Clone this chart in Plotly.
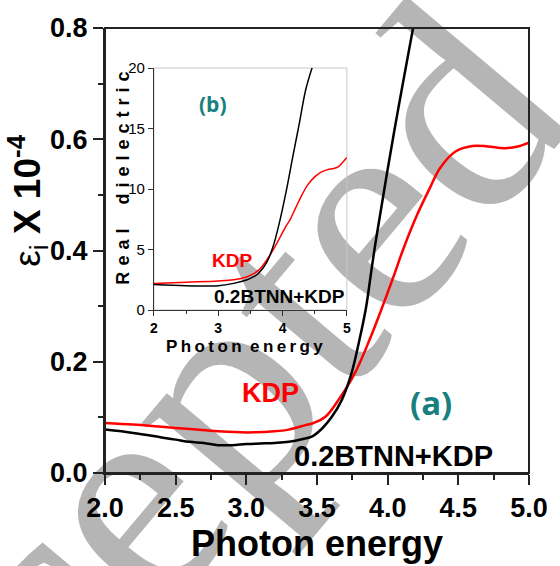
import plotly.graph_objects as go

# ---- main panel (a): imaginary dielectric, eps_i x 10^-4 ----
kdp_x = [2.0, 2.2, 2.4, 2.6, 2.8, 3.0, 3.2, 3.3, 3.42, 3.467, 3.559, 3.651, 3.767, 3.871, 3.963,
         4.044, 4.114, 4.21, 4.30, 4.37, 4.48, 4.60, 4.71, 4.83, 4.92, 5.0]
kdp_y = [0.090, 0.087, 0.083, 0.079, 0.075, 0.073, 0.075, 0.078, 0.086, 0.089, 0.101, 0.131,
         0.179, 0.239, 0.299, 0.355, 0.405, 0.465, 0.513, 0.548, 0.578, 0.588, 0.587, 0.584,
         0.587, 0.594]

btnn_x = [2.0, 2.2, 2.4, 2.5, 2.6, 2.7, 2.8, 2.9, 3.0, 3.1, 3.2, 3.3, 3.4, 3.467, 3.536,
          3.605, 3.675, 3.744, 3.80, 3.848, 3.882, 3.917, 4.04, 4.18]
btnn_y = [0.078, 0.072, 0.064, 0.060, 0.056, 0.054, 0.050, 0.050, 0.052, 0.053, 0.054, 0.056,
          0.061, 0.066, 0.080, 0.101, 0.131, 0.179, 0.239, 0.299, 0.359, 0.419, 0.605, 0.800]

# ---- inset panel (b): real dielectric ----
kdp_in_x = [2.0, 2.5, 3.0, 3.24, 3.45, 3.55, 3.65, 3.80, 3.95, 4.05, 4.11, 4.20, 4.30, 4.40,
            4.50, 4.60, 4.70, 4.80, 4.87, 4.95, 5.0]
kdp_in_y = [2.2, 2.3, 2.4, 2.5, 2.75, 3.0, 3.4, 4.5, 5.9, 6.9, 7.4, 8.4, 9.5, 10.4,
            11.0, 11.4, 11.6, 11.7, 11.85, 12.3, 12.6]

btnn_in_x = [2.0, 2.5, 3.0, 3.24, 3.45, 3.55, 3.62, 3.75, 3.85, 3.95, 4.06, 4.16, 4.26,
             4.36, 4.47]
btnn_in_y = [2.1, 2.0, 2.0, 2.2, 2.5, 2.75, 3.0, 3.9, 5.2, 7.2, 9.9, 12.7, 15.4, 18.2, 20.2]

main_xticks = [2.0, 2.5, 3.0, 3.5, 4.0, 4.5, 5.0]
main_yticks = [0.0, 0.2, 0.4, 0.6, 0.8]
inset_xticks = [2, 3, 4, 5]
inset_yticks = [0, 5, 10, 15, 20]

SANS = "Liberation Sans, Arial, sans-serif"
TEAL = "#17807e"

fig = go.Figure()
fig.add_trace(go.Scatter(x=kdp_x, y=kdp_y, mode="lines", line=dict(color="#ff0000", width=2.5, shape="spline"),
                         xaxis="x", yaxis="y", showlegend=False))
fig.add_trace(go.Scatter(x=btnn_x, y=btnn_y, mode="lines", line=dict(color="#000000", width=2.5, shape="spline"),
                         xaxis="x", yaxis="y", showlegend=False))
fig.add_trace(go.Scatter(x=kdp_in_x, y=kdp_in_y, mode="lines", line=dict(color="#ff0000", width=1.5, shape="spline"),
                         xaxis="x2", yaxis="y2", showlegend=False))
fig.add_trace(go.Scatter(x=btnn_in_x, y=btnn_in_y, mode="lines", line=dict(color="#000000", width=1.5, shape="spline"),
                         xaxis="x2", yaxis="y2", showlegend=False))

W, H = 560, 566
L, R, T, B = 105, 22, 28, 93
pw, ph = W - L - R, H - T - B

def px(xp):
    return (xp - L) / pw

def py(yp):
    return (H - B - yp) / ph

fig.update_layout(
    width=W, height=H,
    margin=dict(l=L, r=R, t=T, b=B, pad=0),
    paper_bgcolor="white", plot_bgcolor="rgba(0,0,0,0)",
    xaxis=dict(domain=[0, 1], range=[2.0, 5.0], tickvals=main_xticks, tickformat=".1f",
               ticks="outside", ticklen=10, tickwidth=2, tickcolor="#222",
               minor=dict(dtick=0.25, ticks="outside", ticklen=5, tickwidth=2, tickcolor="#222"),
               showline=True, linecolor="#222", linewidth=2,
               showgrid=False, zeroline=False,
               tickfont=dict(family=SANS, size=27, color="black", weight="bold"),
               title=dict(text="Photon energy", font=dict(family=SANS, size=36, color="black", weight="bold"),
                          standoff=4)),
    yaxis=dict(domain=[0, 1], range=[0, 0.8], tickvals=main_yticks, tickformat=".1f",
               ticks="outside", ticklen=10, tickwidth=2, tickcolor="#222",
               minor=dict(dtick=0.1, ticks="outside", ticklen=5, tickwidth=2, tickcolor="#222"),
               showline=True, linecolor="#222", linewidth=2,
               showgrid=False, zeroline=False,
               tickfont=dict(family=SANS, size=27, color="black", weight="bold")),
    xaxis2=dict(domain=[px(155), px(352)], anchor="y2", range=[2, 5], tickvals=inset_xticks,
                ticks="outside", ticklen=5, tickwidth=1, tickcolor="#333",
                minor=dict(dtick=0.5, ticks="outside", ticklen=3, tickwidth=1, tickcolor="#333"),
                showline=True, linecolor="#333", linewidth=1, showgrid=False, zeroline=False,
                tickfont=dict(family=SANS, size=14, color="black", weight="bold")),
    yaxis2=dict(domain=[py(310), py(68)], anchor="x2", range=[0, 20], tickvals=inset_yticks,
                ticks="outside", ticklen=5, tickwidth=1, tickcolor="#333",
                showline=True, linecolor="#333", linewidth=1, showgrid=False, zeroline=False,
                tickfont=dict(family=SANS, size=15, color="black")),
    shapes=[
        # watermark stamp behind the data
        dict(type="rect", xref="paper", yref="paper", x0=px(108), x1=px(108), y0=py(470), y1=py(470),
             line=dict(width=0), layer="below",
             label=dict(text="Accepted", textangle=-50, textposition="middle center",
                        font=dict(family="Liberation Serif, Times New Roman, serif", size=305,
                                  color="#b5b5b5"))),
        # inset frame (light)
        dict(type="rect", xref="x2 domain", yref="y2 domain", x0=0, x1=1, y0=0, y1=1,
             line=dict(color="#c8c8c8", width=1), layer="below"),
        # main frame
        dict(type="rect", xref="paper", yref="paper", x0=0, x1=1, y0=0, y1=1,
             line=dict(color="#222", width=2), layer="above"),
    ],
)

ann = []
ann.append(dict(xref="paper", yref="paper", x=px(25), y=py(201), xanchor="center", yanchor="middle",
                textangle=-90, showarrow=False,
                text="ε<sub>i</sub> <b>X 10<sup>-4</sup></b>",
                font=dict(family=SANS, size=37, color="black")))
ann.append(dict(xref="paper", yref="paper", x=px(274), y=py(393), xanchor="center", yanchor="middle",
                showarrow=False, text="KDP",
                font=dict(family=SANS, size=27, color="#ff0000", weight="bold")))
ann.append(dict(xref="paper", yref="paper", x=px(438), y=py(402), xanchor="center", yanchor="middle",
                showarrow=False, text="(a)",
                font=dict(family="Open Sans, sans-serif", size=33, color=TEAL, weight="bold")))
ann.append(dict(xref="paper", yref="paper", x=px(400), y=py(456), xanchor="center", yanchor="middle",
                showarrow=False, text="0.2BTNN+KDP",
                font=dict(family=SANS, size=29, color="black", weight="bold")))
ann.append(dict(xref="paper", yref="paper", x=px(215), y=py(104), xanchor="center", yanchor="middle",
                showarrow=False, text="(b)",
                font=dict(family="Open Sans, sans-serif", size=21, color=TEAL, weight="bold")))
ann.append(dict(xref="paper", yref="paper", x=px(235), y=py(260), xanchor="center", yanchor="middle",
                showarrow=False, text="KDP",
                font=dict(family=SANS, size=19, color="#ff0000", weight="bold")))
ann.append(dict(xref="paper", yref="paper", x=px(283), y=py(296), xanchor="center", yanchor="middle",
                showarrow=False, text="0.2BTNN+KDP",
                font=dict(family=SANS, size=19, color="black", weight="bold")))
ann.append(dict(xref="paper", yref="paper", x=px(247), y=py(346), xanchor="center", yanchor="middle",
                showarrow=False, text="\u2009".join("Photon") + "\u2002" + "\u2009".join("energy"),
                font=dict(family=SANS, size=17, color="black", weight="bold")))
ann.append(dict(xref="paper", yref="paper", x=px(123), y=py(178), xanchor="center", yanchor="middle",
                textangle=-90, showarrow=False,
                text="\u2004".join("Real") + "\u2003\u2004" + "\u2004".join("dielectric"),
                font=dict(family=SANS, size=18, color="black", weight="bold")))
fig.update_layout(annotations=ann)

fig.write_html("out.html")
